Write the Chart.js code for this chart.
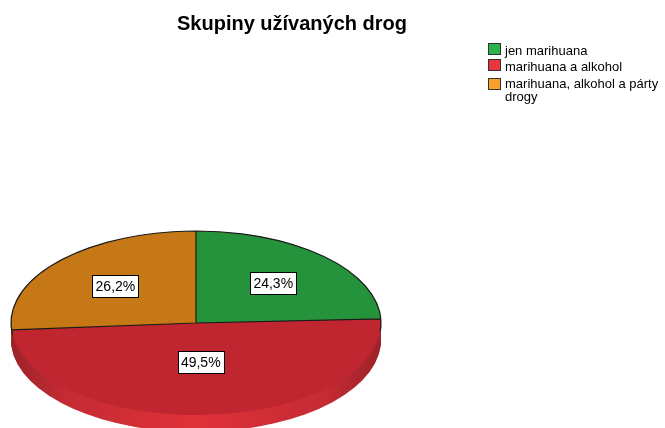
<!DOCTYPE html>
<html>
<head>
<meta charset="utf-8">
<script src="https://cdn.jsdelivr.net/npm/chart.js@4.4.0/dist/chart.umd.min.js"></script>
<style>
    html, body { margin: 0; padding: 0; background: #fff; }
    canvas { display: block; }
</style>
</head>
<body>
<canvas id="pie" width="665" height="428"></canvas>
<script>
const chartTitle = 'Skupiny užívaných drog';
const categories = ['jen marihuana', 'marihuana a alkohol', 'marihuana, alkohol a párty drogy'];
const legendLines = [['jen marihuana'], ['marihuana a alkohol'], ['marihuana, alkohol a párty', 'drogy']];
const percents = [24.3, 49.5, 26.2];
const faceColors = ['#25933c', '#bf2630', '#c67817'];
const sideColors = ['#1e7a32', '#e0313a', '#a86312'];
const legendColors = ['#2bb24b', '#ea343e', '#f8a128'];

// where the flattened pie sits on the page
const faceCenterY = 323;
const faceHeight = 92;
const depth = 17;
const FONT = '"Liberation Sans", Arial, sans-serif';

function squash(ctx, arc) {
    const k = faceHeight / arc.outerRadius;
    ctx.translate(0, faceCenterY);
    ctx.scale(1, k);
    ctx.translate(0, -arc.y);
}

const pie3d = {
    id: 'pie3d',
    beforeDatasetsDraw(chart) {
        const ctx = chart.ctx;
        const arcs = chart.getDatasetMeta(0).data;
        const a0 = arcs[0];
        const R = a0.outerRadius;

        // side wall, stacked copies of the slices moved down
        for (let d = depth; d >= 1; d--) {
            ctx.save();
            ctx.translate(0, d);
            squash(ctx, a0);
            arcs.forEach((arc, i) => {
                ctx.beginPath();
                ctx.moveTo(arc.x, arc.y);
                ctx.arc(arc.x, arc.y, arc.outerRadius, arc.startAngle, arc.endAngle);
                ctx.closePath();
                const g = ctx.createLinearGradient(a0.x - R, 0, a0.x + R, 0);
                g.addColorStop(0, shade(sideColors[i], -0.3));
                g.addColorStop(0.15, shade(sideColors[i], -0.12));
                g.addColorStop(0.5, sideColors[i]);
                g.addColorStop(0.85, shade(sideColors[i], -0.12));
                g.addColorStop(1, shade(sideColors[i], -0.3));
                ctx.fillStyle = g;
                ctx.fill();
            });
            ctx.restore();
        }

        ctx.save();
        squash(ctx, a0);
    },
    afterDatasetsDraw(chart) {
        const ctx = chart.ctx;
        ctx.restore();

        const arcs = chart.getDatasetMeta(0).data;
        const a0 = arcs[0];
        const R = a0.outerRadius;
        const k = faceHeight / R;

        // slice edges and back rim, in page pixels
        ctx.save();
        ctx.strokeStyle = '#1a1a1a';
        ctx.lineWidth = 1.2;
        ctx.beginPath();
        ctx.ellipse(a0.x, faceCenterY, R, R * k, 0, Math.PI * 0.96, Math.PI * 2.03);
        arcs.forEach(arc => {
            ctx.moveTo(arc.x, faceCenterY);
            ctx.lineTo(arc.x + Math.cos(arc.startAngle) * R, faceCenterY + Math.sin(arc.startAngle) * R * k);
        });
        ctx.stroke();

        // percent labels at slice centroids
        ctx.font = '14px ' + FONT;
        ctx.textAlign = 'center';
        ctx.textBaseline = 'middle';
        arcs.forEach((arc, i) => {
            const theta = arc.endAngle - arc.startAngle;
            const mid = arc.startAngle + theta / 2;
            const r = 4 * R * Math.sin(theta / 2) / (3 * theta);
            const x = arc.x + Math.cos(mid) * r;
            const y = faceCenterY + Math.sin(mid) * r * k;
            const txt = percents[i].toFixed(1).replace('.', ',') + '%';
            const w = Math.round(ctx.measureText(txt).width + 6);
            const h = 22;
            const bx = Math.round(x - w / 2) + 0.5;
            const by = Math.round(y - h / 2) + 0.5;
            ctx.fillStyle = '#fff';
            ctx.fillRect(bx, by, w, h);
            ctx.strokeStyle = '#000';
            ctx.lineWidth = 1;
            ctx.strokeRect(bx, by, w, h);
            ctx.fillStyle = '#000';
            ctx.fillText(txt, x, y + 1);
        });
        ctx.restore();
    },
    afterDraw(chart) {
        const ctx = chart.ctx;
        ctx.save();
        // title
        ctx.fillStyle = '#000';
        ctx.font = 'bold 20px ' + FONT;
        ctx.textAlign = 'center';
        ctx.textBaseline = 'alphabetic';
        ctx.fillText(chartTitle, 292, 30);

        // legend
        ctx.font = '13px ' + FONT;
        ctx.textAlign = 'left';
        const boxTops = [43, 59, 78];
        const baselines = [[55], [71], [88, 101]];
        legendLines.forEach((lines, i) => {
            ctx.fillStyle = legendColors[i];
            ctx.fillRect(488, boxTops[i], 13, 12);
            ctx.strokeStyle = '#333';
            ctx.lineWidth = 1;
            ctx.strokeRect(488.5, boxTops[i] + 0.5, 12, 11);
            ctx.fillStyle = '#000';
            lines.forEach((ln, j) => ctx.fillText(ln, 505, baselines[i][j]));
        });
        ctx.restore();
    }
};

function shade(hex, amt) {
    const n = parseInt(hex.slice(1), 16);
    const f = c => Math.max(0, Math.min(255, Math.round(c * (1 + amt))));
    const r = f(n >> 16), g = f((n >> 8) & 255), b = f(n & 255);
    return 'rgb(' + r + ',' + g + ',' + b + ')';
}

new Chart(document.getElementById('pie').getContext('2d'), {
    type: 'pie',
    data: {
        labels: categories,
        datasets: [{
            data: percents,
            backgroundColor: faceColors,
            borderWidth: 0,
            clip: false
        }]
    },
    options: {
        responsive: false,
        devicePixelRatio: 1,
        animation: false,
        events: [],
        layout: { padding: { left: 11, right: 284, top: 29, bottom: 29 } },
        plugins: {
            legend: { display: false },
            title: { display: false },
            tooltip: { enabled: false }
        }
    },
    plugins: [pie3d]
});
</script>
</body>
</html>
